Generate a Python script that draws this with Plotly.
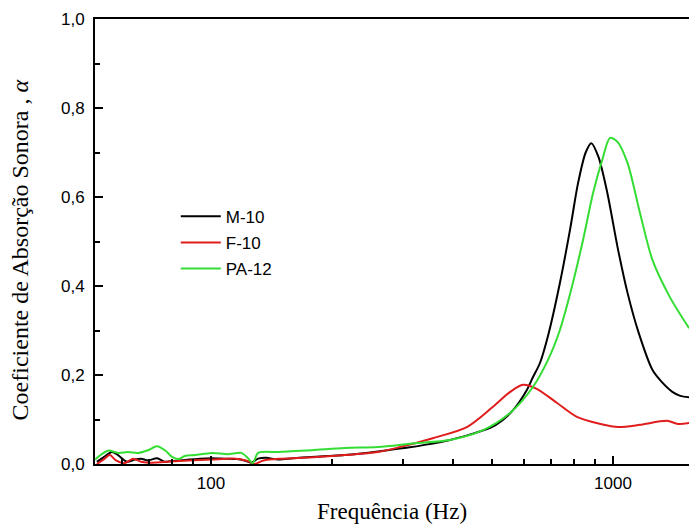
import plotly.graph_objects as go

# ---- data ----
m10_freq = [52, 54, 56.7, 58.7, 61.8, 64.6, 67, 69.7, 73.4, 76.8, 80, 84, 88, 94, 100.6, 108, 116, 121, 126, 131,
            137, 147, 160, 178, 195, 215, 240, 260, 285, 309, 340, 393, 440, 495, 530, 564, 610, 632, 658, 690,
            737, 783, 818, 855, 883, 920, 968, 1026, 1087, 1159, 1254, 1320, 1405, 1470, 1546]
m10_alpha = [0.005, 0.015, 0.027, 0.02, 0.005, 0.01, 0.012, 0.008, 0.013, 0.005, 0.007, 0.008, 0.01, 0.012, 0.013,
             0.012, 0.011, 0.008, 0.003, 0.012, 0.014, 0.01, 0.013, 0.016, 0.018, 0.02, 0.024, 0.028, 0.033, 0.037,
             0.043, 0.054, 0.066, 0.081, 0.098, 0.121, 0.166, 0.195, 0.227, 0.29, 0.405, 0.53, 0.63, 0.70, 0.721,
             0.69, 0.609, 0.488, 0.384, 0.294, 0.211, 0.185, 0.162, 0.153, 0.15]

f10_freq = [52, 54, 56, 58, 61, 64, 67, 70, 75, 80, 88, 100, 115, 122, 125, 128, 135, 150, 180, 215, 260, 295,
            356, 433, 502, 555, 597, 646, 726, 813, 931, 1030, 1167, 1362, 1450, 1546]
f10_alpha = [0.0, 0.01, 0.02, 0.008, 0.002, 0.012, 0.005, 0.003, 0.004, 0.006, 0.008, 0.01, 0.012, 0.008, 0.005,
             0.0, 0.008, 0.012, 0.015, 0.02, 0.027, 0.038, 0.058, 0.083, 0.128, 0.162, 0.178, 0.169, 0.137, 0.106,
             0.09, 0.083, 0.088, 0.097, 0.09, 0.092]

pa12_freq = [51.5, 52.4, 55.4, 58.7, 62.2, 65.9, 69.7, 73.4, 76.8, 80, 82.8, 86.1, 91.2, 100.6, 110, 119, 123.6,
             127, 131, 147, 178, 215, 260, 309, 325, 393, 475, 555, 632, 690, 737, 783, 842, 892, 940, 983, 1026,
             1087, 1167, 1254, 1385, 1546]
pa12_alpha = [0.01, 0.016, 0.03, 0.025, 0.027, 0.025, 0.031, 0.04, 0.031, 0.016, 0.011, 0.018, 0.02, 0.025, 0.022,
              0.025, 0.013, 0.002, 0.025, 0.027, 0.031, 0.036, 0.038, 0.045, 0.047, 0.054, 0.076, 0.115, 0.173,
              0.235, 0.3, 0.384, 0.503, 0.609, 0.683, 0.733, 0.724, 0.676, 0.564, 0.458, 0.375, 0.305]

series_names = ["M-10", "F-10", "PA-12"]
series_colors = ["#000000", "#e01c1c", "#33dd33"]

x_major = [100, 1000]
x_minor = [60, 70, 80, 90, 200, 300, 400, 500, 600, 700, 800, 900]
y_major = [0.0, 0.2, 0.4, 0.6, 0.8, 1.0]
y_minor = [0.1, 0.3, 0.5, 0.7, 0.9]

fig = go.Figure()
for name, fx, fy, col in zip(series_names, [m10_freq, f10_freq, pa12_freq],
                             [m10_alpha, f10_alpha, pa12_alpha], series_colors):
    fig.add_trace(go.Scatter(x=fx, y=fy, mode="lines", name=name, legendgroup=name,
                             line=dict(color=col, width=2, shape="spline", smoothing=0.8)))

tick_font = dict(family="Arial, Liberation Sans", size=17, color="black")
title_font = dict(family="Liberation Serif, Times New Roman", color="black")

fig.update_layout(
    width=689, height=527,
    margin=dict(l=95, r=0, t=19, b=63),
    paper_bgcolor="white", plot_bgcolor="white",
    separators=", ",
    showlegend=True,
    legend=dict(x=0.136, y=0.596, xanchor="left", yanchor="top",
                font=dict(family="Arial, Liberation Sans", size=17, color="black"),
                bgcolor="rgba(0,0,0,0)", tracegroupgap=1, traceorder="grouped",
                itemwidth=40),
    xaxis=dict(type="log", range=[1.7114, 3.189],
               showline=True, linecolor="black", linewidth=2, mirror=True,
               showgrid=False, zeroline=False,
               tickmode="array", tickvals=x_major, ticktext=[str(v) for v in x_major],
               ticks="inside", ticklen=8, tickwidth=2, tickcolor="black",
               ticklabelstandoff=3, tickfont=tick_font,
               minor=dict(tickmode="array", tickvals=x_minor, ticks="inside", ticklen=5,
                          tickwidth=1.5, tickcolor="black", showgrid=False)),
    yaxis=dict(range=[0, 1.0],
               showline=True, linecolor="black", linewidth=2, mirror=False,
               showgrid=False, zeroline=False,
               tickmode="array", tickvals=y_major, tickformat=".1f",
               ticks="inside", ticklen=8, tickwidth=2, tickcolor="black",
               ticklabelstandoff=5, tickfont=tick_font,
               minor=dict(tickmode="array", tickvals=y_minor, ticks="inside", ticklen=5,
                          tickwidth=1.5, tickcolor="black", showgrid=False)),
    annotations=[
        dict(text="Frequência (Hz)", xref="paper", yref="paper", x=0.5, y=0, yshift=-47,
             xanchor="center", yanchor="middle", showarrow=False,
             font=dict(size=23, **title_font)),
        dict(text="Coeficiente de Absorção Sonora , <i>α</i>", xref="paper", yref="paper",
             x=0, xshift=-75, y=0.48, textangle=-90,
             xanchor="center", yanchor="middle", showarrow=False,
             font=dict(size=24, **title_font)),
    ],
)

fig.write_html("out.html", config={"displayModeBar": False},
               post_script="document.body.style.margin='0';")
